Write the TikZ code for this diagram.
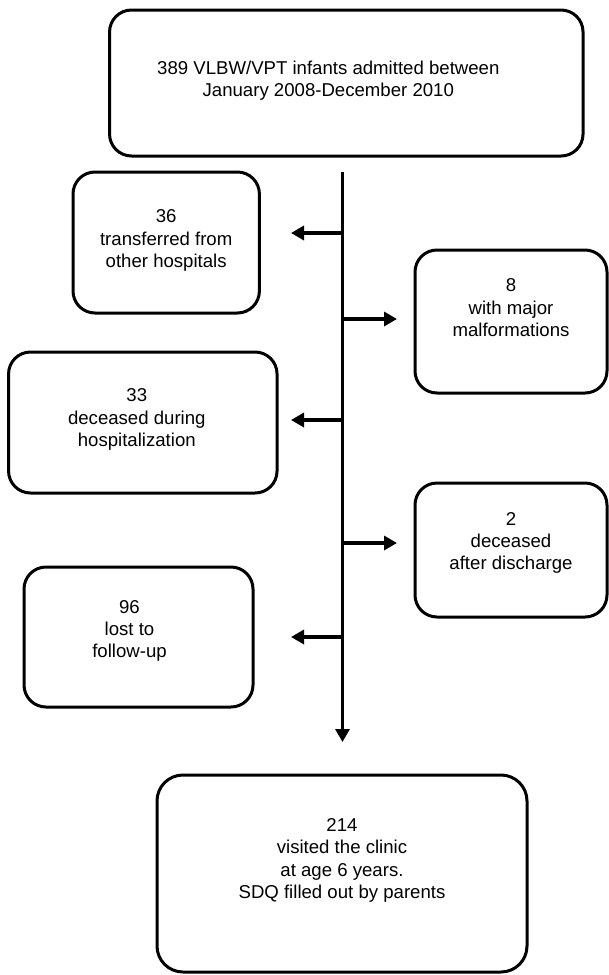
\documentclass[tikz,border=0pt]{standalone}
\usepackage{fontspec}
\setmainfont{Liberation Sans}
\usetikzlibrary{arrows.meta}
\newcommand{\padr}[1]{\rule{#1}{0pt}}
\begin{document}
\begin{tikzpicture}[x=1pt,y=-1pt,
  box/.style={draw,line width=3pt,rounded corners=22pt,align=center,
    font=\fontsize{18.6pt}{22.3pt}\selectfont},
  flow/.style={line width=3.5pt,-{Triangle[length=13pt,width=14pt]}}]
  \path[use as bounding box] (0,0) rectangle (609,975);
  \node[box,minimum width=473.5pt,minimum height=146pt,text depth=7.9pt] (admit) at (346.3,83)
    {389 VLBW/VPT infants admitted between\padr{36pt}\\January 2008-December 2010\padr{36pt}};
  \node[box,minimum width=186.4pt,minimum height=141pt,text depth=7.9pt] (transf) at (166.2,242.5)
    {36\\transferred from\\other hospitals};
  \node[box,minimum width=192pt,minimum height=143pt,text depth=28pt] (malf) at (511,321.5)
    {8\\with major\\malformations};
  \node[box,minimum width=268.5pt,minimum height=141pt,text depth=9.9pt] (died) at (142.8,422.5)
    {33\padr{12pt}\\deceased during\padr{12pt}\\hospitalization\padr{12pt}};
  \node[box,minimum width=192pt,minimum height=134pt,text depth=17.9pt] (late) at (511,550)
    {2\\deceased\\after discharge};
  \node[box,minimum width=229pt,minimum height=140pt,text depth=15.9pt] (lost) at (138.5,637)
    {96\padr{18pt}\\lost to\padr{18pt}\\follow-up\padr{18pt}};
  \node[box,rounded corners=26pt,minimum width=370pt,minimum height=197pt,text depth=29.9pt] (clinic) at (342,873.5)
    {214\\visited the clinic\\at age 6 years.\\SDQ filled out by parents};
  \coordinate (trunktop) at (342.5,172);
  \coordinate (trunkend) at (342.5,742);
  \draw[flow] (trunktop) -- (trunkend);
  \foreach \y/\tip [count=\i] in {233/291,319/397,420/291,543/397,637/291} {
    \coordinate (s\i) at (342.5,\y);
    \coordinate (e\i) at (\tip,\y);
    \draw[flow] (s\i) -- (e\i);
  }
\end{tikzpicture}
\end{document}
